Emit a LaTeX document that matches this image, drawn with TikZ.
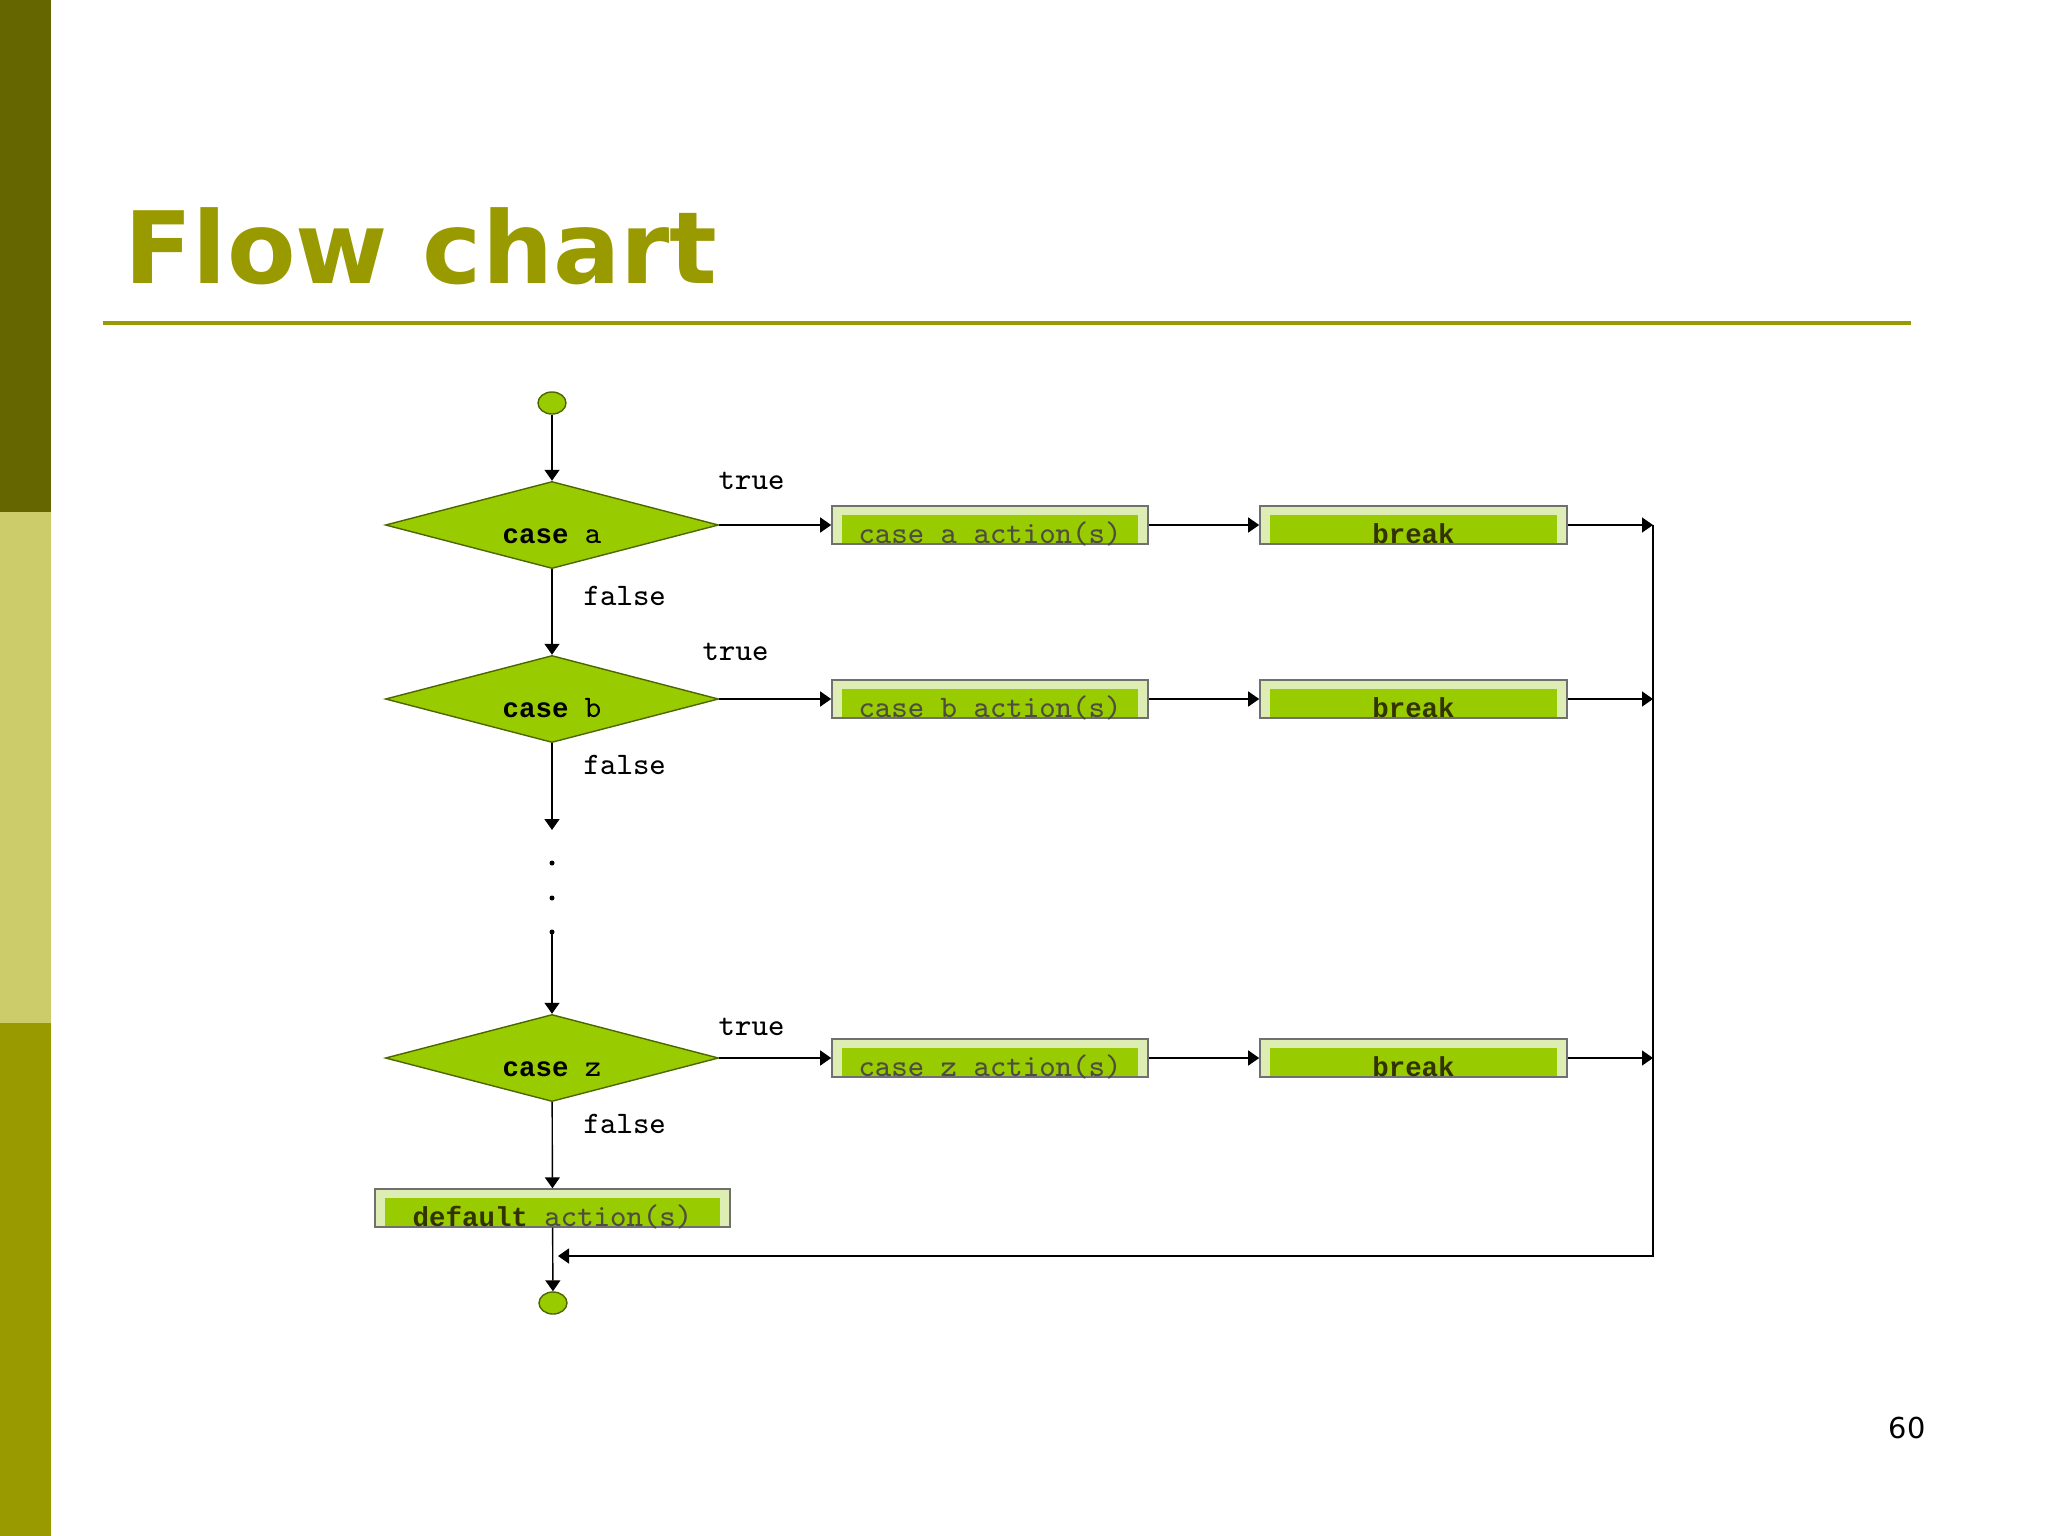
\documentclass[tikz,border=0pt]{standalone}
\usepackage{fontspec}
\setmainfont{Liberation Serif}
\newfontfamily\slidefont{DejaVu Sans}
\newfontfamily\heavymono{Liberation Mono}
\newcommand{\kw}[1]{{\heavymono\bfseries\fontsize{7.8}{10}\selectfont #1}}
\usetikzlibrary{shapes.geometric,arrows.meta}

\definecolor{barTop}{HTML}{666600}
\definecolor{barMid}{HTML}{CCCC6A}
\definecolor{barLow}{HTML}{999900}
\definecolor{titleOlive}{HTML}{999900}
\definecolor{leaf}{HTML}{99CC00}
\definecolor{leafEdge}{HTML}{4D6600}
\definecolor{leafPale}{HTML}{DEEDB4}
\definecolor{boxEdge}{HTML}{707070}
\definecolor{ink}{HTML}{333300}
\definecolor{greyInk}{HTML}{4D4D40}

\tikzset{
  codefont/.style={font=\ttfamily\fontsize{8.9}{10}\selectfont},
  decision/.style={diamond,aspect=3.83,draw=leafEdge,fill=leaf,
    minimum width=3.33cm,minimum height=0.87cm,inner sep=0pt,
    text height=0.36cm,text depth=0pt,codefont},
  terminal/.style={ellipse,draw=leafEdge,fill=leaf,
    minimum width=0.28cm,minimum height=0.22cm,inner sep=0pt},
  actbox/.style={rectangle,draw=boxEdge,fill=leafPale,
    minimum height=0.38cm,inner sep=0pt,text height=0.36cm,text depth=0pt,codefont,
    path picture={\fill[leaf] ([xshift=0.1cm,yshift=-0.09cm]path picture bounding box.north west)
      rectangle ([xshift=-0.1cm]path picture bounding box.south east);}},
  branch/.style={anchor=base west,inner sep=0pt,codefont},
  dot/.style={circle,fill=black,inner sep=0pt,minimum size=0.05cm}
}

\begin{document}
\begin{tikzpicture}[x=0.01cm,y=-0.01cm,line width=0.4pt,>={Triangle[length=0.11cm,width=0.15cm]}]
\useasboundingbox (0,0) rectangle (2048,1536);

% slide frame
\fill[barTop] (0,0) rectangle (51,512);
\fill[barMid] (0,512) rectangle (51,1023);
\fill[barLow] (0,1023) rectangle (51,1536);
\node[anchor=base west,inner sep=0pt,text=titleOlive,font=\slidefont\bfseries\fontsize{28.4}{34}\selectfont] (title) at (124,283) {Flow chart};
\draw[titleOlive,line width=0.04cm] (103,323) -- (1911,323);
\node[anchor=base,inner sep=0pt,font=\slidefont\fontsize{8.2}{10}\selectfont] (pagenum) at (1907,1438) {60};

% left column
\node[terminal] (start) at (552,403) {};
\node[decision] (caseA) at (552,525) {\kw{case} a};
\node[decision] (caseB) at (552,699) {\kw{case} b};
\coordinate (gap) at (552,830);
\node[dot] (d1) at (552,863) {};
\node[dot] (d2) at (552,898) {};
\node[dot] (d3) at (552,932) {};
\node[decision] (caseZ) at (552,1058) {\kw{case} z};
\node[actbox,minimum width=3.55cm] (dflt) at (552.5,1208) {\textcolor{ink}{\kw{default}} \textcolor{greyInk}{action(s)}};
\node[terminal] (stop) at (553,1303) {};

% actions and breaks
\foreach \c/\y in {A/525,B/699,Z/1058}{
  \node[actbox,minimum width=3.16cm,text=greyInk] (act\c) at (990,\y) {};
  \node[actbox,minimum width=3.07cm,text=ink] (brk\c) at (1413.5,\y) {\kw{break}};
  \coordinate (rail\c) at (1653,\y);
}
\node[actbox,minimum width=3.16cm,text=greyInk] at (actA) {case a action(s)};
\node[actbox,minimum width=3.16cm,text=greyInk] at (actB) {case b action(s)};
\node[actbox,minimum width=3.16cm,text=greyInk] at (actZ) {case z action(s)};
\coordinate (back) at (558,1256);

% branch labels
\node[branch] (tA) at (718,489) {true};
\node[branch] (fA) at (583,605) {false};
\node[branch] (tB) at (702,660) {true};
\node[branch] (fB) at (583,774) {false};
\node[branch] (tZ) at (718,1035) {true};
\node[branch] (fZ) at (583,1133) {false};

% connectors
\draw[->] (start) -- (caseA);
\draw[->] (caseA) -- (caseB);
\draw[->] (caseB) -- (gap);
\draw[->] (d3.center) -- (caseZ);
\draw[->] (caseZ) -- (dflt);
\draw[->] (dflt) -- (stop);
\foreach \c in {A,B,Z}{
  \draw[->] (case\c) -- (act\c);
  \draw[->] (act\c) -- (brk\c);
  \draw[->] (brk\c) -- (rail\c);
}
\draw[->] (railA) |- (back);
\end{tikzpicture}
\end{document}
